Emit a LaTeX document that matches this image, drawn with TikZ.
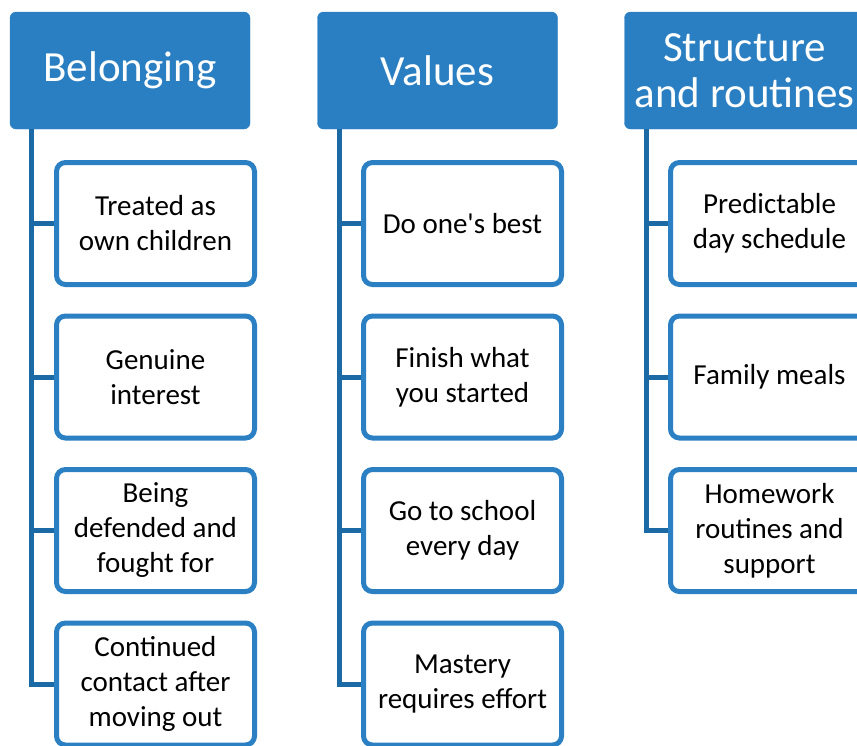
\documentclass[tikz,border=0pt]{standalone}
\usepackage{fontspec}
\setmainfont{Carlito}
\definecolor{headblue}{RGB}{42,127,194}
\definecolor{boxblue}{RGB}{43,128,196}
\definecolor{trunkblue}{RGB}{27,106,165}
\tikzset{
  head/.style={fill=headblue, draw=headblue, rounded corners=6pt, text=white,
    minimum width=240pt, minimum height=117pt, align=center, inner sep=0pt,
    font={\fontsize{43}{46}\selectfont}},
  item/.style={draw=boxblue, fill=white, line width=5pt, rounded corners=9pt,
    minimum width=198pt, minimum height=122pt, align=center, inner sep=0pt,
    font={\fontsize{29}{35}\selectfont}},
  trunk/.style={draw=trunkblue, line width=5pt}
}
\begin{document}
\begin{tikzpicture}[x=1pt, y=-1pt]
  \useasboundingbox (0,0) rectangle (857,745);
  \clip (0,0) rectangle (857,745);

  % column headers
  \node[head] (belonging) at (130,70.5) {Belonging};
  \node[head] (values) at (437.5,70.5) {Values};
  \node[head] (structure) at (744.5,70.5) {Structure\\and routines};

  % first column
  \node[item] (b1) at (155.5,223.5) {Treated as\\own children};
  \node[item] (b2) at (155.5,377) {Genuine\\interest};
  \node[item] (b3) at (155.5,530.5) {Being\\defended and\\fought for};
  \node[item] (b4) at (155.5,684) {Continued\\contact after\\moving out};

  % second column
  \node[item] (v1) at (462.5,223.5) {Do one\textquotesingle s best};
  \node[item] (v2) at (462.5,377) {Finish what\\you started};
  \node[item] (v3) at (462.5,530.5) {Go to school\\every day};
  \node[item] (v4) at (462.5,684) {Mastery\\requires effort};

  % third column
  \node[item] (s1) at (769.5,223.5) {Predictable\\day schedule};
  \node[item] (s2) at (769.5,377) {Family meals};
  \node[item] (s3) at (769.5,530.5) {Homework\\routines and\\support};

  % trunks and stubs
  \draw[trunk] ([xshift=22pt]belonging.south west) |- (b4.west);
  \draw[trunk] (b1.west) -- ++(-24,0);
  \draw[trunk] (b2.west) -- ++(-24,0);
  \draw[trunk] (b3.west) -- ++(-24,0);

  \draw[trunk] ([xshift=22pt]values.south west) |- (v4.west);
  \draw[trunk] (v1.west) -- ++(-24,0);
  \draw[trunk] (v2.west) -- ++(-24,0);
  \draw[trunk] (v3.west) -- ++(-24,0);

  \draw[trunk] ([xshift=22pt]structure.south west) |- (s3.west);
  \draw[trunk] (s1.west) -- ++(-24,0);
  \draw[trunk] (s2.west) -- ++(-24,0);
\end{tikzpicture}
\end{document}
